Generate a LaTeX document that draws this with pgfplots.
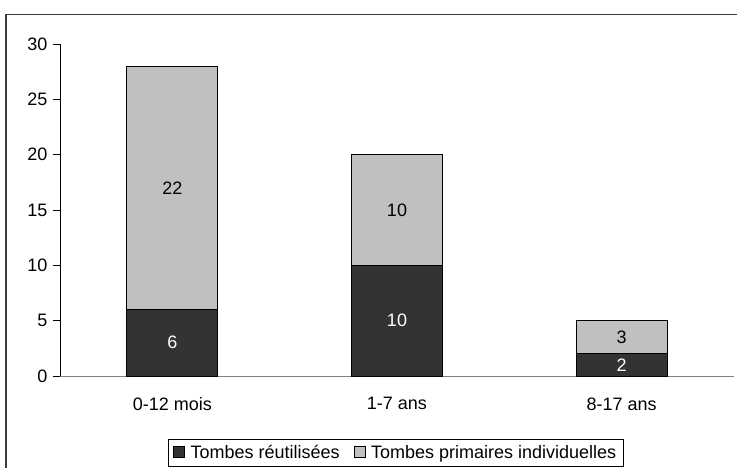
\documentclass[border=0pt]{standalone}
\usepackage{fontspec}
\setmainfont{Liberation Sans}
\usepackage{pgfplots}
\usepackage{pgfplotstable}
\pgfplotsset{compat=1.18}
\definecolor{darkbar}{RGB}{51,51,51}
\definecolor{lightbar}{RGB}{192,192,192}
\definecolor{framecol}{RGB}{60,60,60}

% counts per age group: reused tombs, individual primary tombs
\pgfplotstableread{
x reused primary
0 6 22
1 10 10
2 2 3
}\counts
% segment mid-heights for the value labels
\pgfplotstableread{
x y v
0 3 6
1 5 10
2 1 2
}\darklabels
\pgfplotstableread{
x y v
0 17 22
1 15 10
2 3.5 3
}\lightlabels

\begin{document}
\begin{tikzpicture}[x=1pt,y=1pt,font=\fontsize{18}{21.6}\selectfont]
\useasboundingbox (0,0) rectangle (737,467);
\draw[framecol, line width=1.2pt] (6,-20) -- (6,452.5) -- (760,452.5);
\pgfplotsset{chartbox/.style={
    scale only axis, width=674pt, height=332pt,
    at={(60pt,91pt)}, anchor=south west,
    xmin=-0.5, xmax=2.5, ymin=0, ymax=30,
    /pgf/number format/assume math mode=true}}
\begin{axis}[chartbox,
    ybar stacked, bar width=91pt,
    axis lines=left, axis line style={-},
    x axis line style={draw=gray, line width=1pt},
    y axis line style={draw=black, line width=0.8pt},
    tick align=outside,
    ytick={0,5,...,30},
    ytick style={draw=black, line width=0.8pt},
    major tick length=7pt,
    yticklabel style={xshift=-2pt},
    xtick={0,1,2},
    xticklabels={0-12 mois, 1-7 ans, 8-17 ans},
    xtick style={draw=none},
    xticklabel style={yshift=-11pt},
    extra x ticks={0.5,1.5,2.5},
    extra x tick labels={},
    extra x tick style={tick style={draw=black, line width=0.8pt}, major tick length=7pt},
    legend style={at={(0.498,-0.19)}, anchor=north, legend columns=2,
        draw=black, line width=0.8pt, fill=white, inner xsep=5pt, inner ysep=4pt,
        /tikz/every even column/.append style={column sep=12pt}},
    legend image code/.code={
        \draw[#1, draw=black, line width=0.8pt] (0pt,-5pt) rectangle (11pt,6pt);
        \path[draw=none, fill=none] (0pt,0pt) -- (15pt,0pt);},
]
\addplot[fill=darkbar, draw=black, line width=0.8pt] table[x=x, y=reused] {\counts};
\addplot[fill=lightbar, draw=black, line width=0.8pt] table[x=x, y=primary] {\counts};
\legend{Tombes réutilisées, Tombes primaires individuelles}
\end{axis}
\begin{axis}[chartbox, hide axis]
\addplot[draw=none, mark=none, nodes near coords, point meta=explicit,
    nodes near coords style={anchor=center, text=white}]
    table[x=x, y=y, meta=v] {\darklabels};
\addplot[draw=none, mark=none, nodes near coords, point meta=explicit,
    nodes near coords style={anchor=center, text=black}]
    table[x=x, y=y, meta=v] {\lightlabels};
\end{axis}
\end{tikzpicture}
\end{document}
